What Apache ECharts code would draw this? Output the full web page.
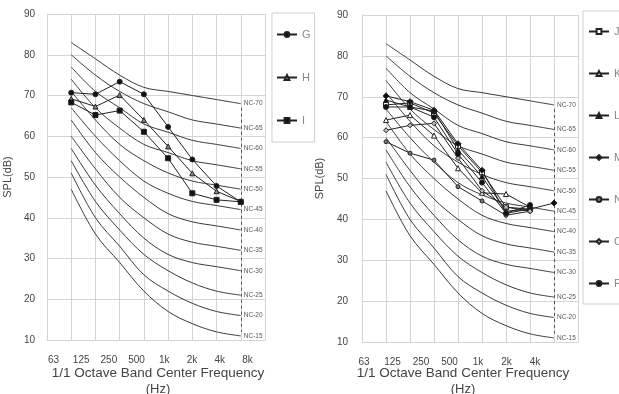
<!DOCTYPE html>
<html><head><meta charset="utf-8">
<script src="https://cdn.jsdelivr.net/npm/echarts@6/dist/echarts.min.js"></script>
<style>html,body{margin:0;padding:0;background:#fff}#c{width:619px;height:394px}</style>
</head><body><div id="c"></div>
<script>
// ---- data ----
const bands = ['63', '125', '250', '500', '1k', '2k', '4k', '8k'];
const leftTickLabels = ['63', '125', '250', '500', '1k', '2k', '4k', '8k'];
const rightTickLabels = ['63', '125', '250', '500', '1k', '2k', '4k'];
const yTicks = [10, 20, 30, 40, 50, 60, 70, 80, 90];

const ncNames = ['NC-70', 'NC-65', 'NC-60', 'NC-55', 'NC-50', 'NC-45', 'NC-40', 'NC-35', 'NC-30', 'NC-25', 'NC-20', 'NC-15'];
const nc70 = [83, 79, 75, 72, 71, 70, 69, 68];
const nc65 = [80, 75, 71, 68, 66, 64, 63, 62];
const nc60 = [77, 71, 67, 63, 61, 59, 58, 57];
const nc55 = [74, 67, 62, 58, 56, 54, 53, 52];
const nc50 = [71, 64, 58, 54, 51, 49, 48, 47];
const nc45 = [67, 60, 54, 49, 46, 44, 43, 42];
const nc40 = [64, 56, 50, 45, 41, 39, 38, 37];
const nc35 = [60, 52, 45, 40, 36, 34, 33, 32];
const nc30 = [57, 48, 41, 35, 31, 29, 28, 27];
const nc25 = [54, 44, 37, 31, 27, 24, 22, 21];
const nc20 = [51, 40, 33, 26, 22, 19, 17, 16];
const nc15 = [47, 36, 29, 22, 17, 14, 12, 11];
const ncCurves = [nc70, nc65, nc60, nc55, nc50, nc45, nc40, nc35, nc30, nc25, nc20, nc15];

// left panel
const seriesG = [70.7, 70.3, 73.4, 70.3, 62.3, 54.3, 47.8, 43.9];
const seriesH = [69.2, 67.3, 70.1, 64.0, 57.5, 50.9, 46.5, 44.0];
const seriesI = [68.3, 65.2, 66.3, 61.1, 54.6, 46.0, 44.4, 43.9];

// right panel
const seriesJ = [68.0, 68.5, 66.0, 58.0, 51.5, 43.0, 42.5];
const seriesK = [64.3, 65.5, 60.5, 52.5, 46.5, 46.2, 43.0];
const seriesL = [69.2, 67.5, 66.5, 57.0, 50.5, 42.0, 42.5];
const seriesM = [70.2, 68.8, 66.7, 58.5, 52.0, 41.5, 42.5, 44.0];
const seriesN = [59.0, 56.2, 54.5, 48.0, 44.5, 41.0, 42.0];
const seriesO = [61.8, 63.0, 63.5, 55.0, 47.0, 43.0, 42.0];
const seriesP = [67.5, 67.5, 65.0, 56.0, 49.0, 41.5, 43.5];

// ---- chart ----
const slots = [''].concat(bands).concat([' ']);
const pad = v => ['-'].concat(v);
const GRID_C = '#d4d4d4';
const TXT = '#444';

function mainAxes(gi) {
  return {
    x: {
      type: 'category', gridIndex: gi, data: slots, boundaryGap: false,
      axisLine: { lineStyle: { color: GRID_C } }, axisTick: { show: false },
      axisLabel: { show: false },
      splitLine: { show: true, interval: 0, lineStyle: { color: GRID_C } }
    },
    y: {
      type: 'value', gridIndex: gi, min: yTicks[0], max: yTicks[yTicks.length - 1], interval: 10,
      axisLine: { show: true, lineStyle: { color: GRID_C } }, axisTick: { show: false },
      axisLabel: { color: TXT, fontSize: 10, margin: gi === 0 ? 12 : 14, fontFamily: 'Liberation Sans' },
      splitLine: { lineStyle: { color: GRID_C } },
      name: 'SPL(dB)', nameLocation: 'middle', nameGap: gi === 0 ? 34 : 37,
      nameTextStyle: { color: TXT, fontSize: 11, fontFamily: 'Liberation Sans' }
    }
  };
}
function labelAxes(gi, labels) {
  return {
    x: {
      type: 'category', gridIndex: gi, data: labels, boundaryGap: true,
      axisLine: { show: false }, axisTick: { show: false }, splitLine: { show: false },
      axisLabel: { color: TXT, fontSize: 10, margin: 15, interval: 0, fontFamily: 'Liberation Sans' }
    },
    y: { type: 'value', gridIndex: gi, show: false, min: 0, max: 1 }
  };
}
const a0 = mainAxes(0), a1 = mainAxes(1), l0 = labelAxes(2, leftTickLabels), l1 = labelAxes(3, rightTickLabels);

function ncSeries(ai) {
  return ncCurves.map((c, k) => ({
    type: 'line', xAxisIndex: ai, yAxisIndex: ai, data: pad(c), smooth: 0.35,
    symbol: 'none', silent: true, z: 2,
    lineStyle: { color: '#3a3a3a', width: 1 },
    endLabel: { show: true, formatter: ncNames[k], fontSize: 6.5, color: '#555', distance: 3, fontFamily: 'Liberation Sans' },
    markLine: k === ncCurves.length - 1 ? {
      silent: true, symbol: 'none', label: { show: false },
      lineStyle: { color: '#555', type: [3, 3], width: 1 },
      data: [[{ coord: ['8k', 67] }, { coord: ['8k', 12] }]]
    } : undefined
  }));
}
function dataSeries(ai, name, vals, symbol, color, size) {
  return {
    type: 'line', name, xAxisIndex: ai, yAxisIndex: ai, data: pad(vals),
    symbol, symbolSize: size || 5, z: 5,
    lineStyle: { color: '#222', width: 1 },
    itemStyle: { color: color, borderColor: '#222', borderWidth: 1 }
  };
}

const option = {
  animation: false,
  backgroundColor: '#fff',
  grid: [
    { left: 47, top: 14, width: 218, height: 326 },
    { left: 362, top: 15, width: 216, height: 327 },
    { left: 39.6, top: 14, width: 221.7, height: 326 },
    { left: 349.75, top: 15, width: 199.5, height: 327 }
  ],
  xAxis: [a0.x, a1.x, l0.x, l1.x],
  yAxis: [a0.y, a1.y, l0.y, l1.y],
  legend: [
    {
      data: ['G', 'H', 'I'], orient: 'vertical', left: 272, top: 13,
      itemWidth: 20, itemHeight: 6, itemGap: 32, padding: [16, 4, 16, 4],
      borderColor: '#cfcfcf', borderWidth: 1,
      textStyle: { color: '#888', fontSize: 11, fontFamily: 'Liberation Sans' }
    },
    {
      data: ['J', 'K', 'L', 'M', 'N', 'O', 'P'], orient: 'vertical', left: 583, top: 11,
      itemWidth: 20, itemHeight: 6, itemGap: 31, padding: [15, 8, 15, 5],
      borderColor: '#cfcfcf', borderWidth: 1,
      textStyle: { color: '#888', fontSize: 11, fontFamily: 'Liberation Sans' }
    }
  ],
  graphic: [
    { type: 'text', x: 158, y: 373, style: { text: '1/1 Octave Band Center Frequency', align: 'center', verticalAlign: 'middle', fontSize: 13.5, fill: TXT, fontFamily: 'Liberation Sans' } },
    { type: 'text', x: 158, y: 389, style: { text: '(Hz)', align: 'center', verticalAlign: 'middle', fontSize: 13, fill: TXT, fontFamily: 'Liberation Sans' } },
    { type: 'text', x: 463, y: 373, style: { text: '1/1 Octave Band Center Frequency', align: 'center', verticalAlign: 'middle', fontSize: 13.5, fill: TXT, fontFamily: 'Liberation Sans' } },
    { type: 'text', x: 463, y: 389, style: { text: '(Hz)', align: 'center', verticalAlign: 'middle', fontSize: 13, fill: TXT, fontFamily: 'Liberation Sans' } }
  ],
  series: [].concat(
    ncSeries(0), ncSeries(1),
    [
      dataSeries(0, 'G', seriesG, 'circle', '#111', 5),
      dataSeries(0, 'H', seriesH, 'triangle', '#888', 5),
      dataSeries(0, 'I', seriesI, 'rect', '#111', 5),
      dataSeries(1, 'J', seriesJ, 'rect', '#fff', 5),
      dataSeries(1, 'K', seriesK, 'triangle', '#fff', 5),
      dataSeries(1, 'L', seriesL, 'triangle', '#111', 5),
      dataSeries(1, 'M', seriesM, 'diamond', '#111', 6),
      dataSeries(1, 'N', seriesN, 'circle', '#777', 4),
      dataSeries(1, 'O', seriesO, 'diamond', '#bbb', 5),
      dataSeries(1, 'P', seriesP, 'circle', '#111', 5)
    ]
  )
};
const chart = echarts.init(document.getElementById('c'), null, { renderer: 'canvas' });
chart.setOption(option);
</script>
</body></html>
